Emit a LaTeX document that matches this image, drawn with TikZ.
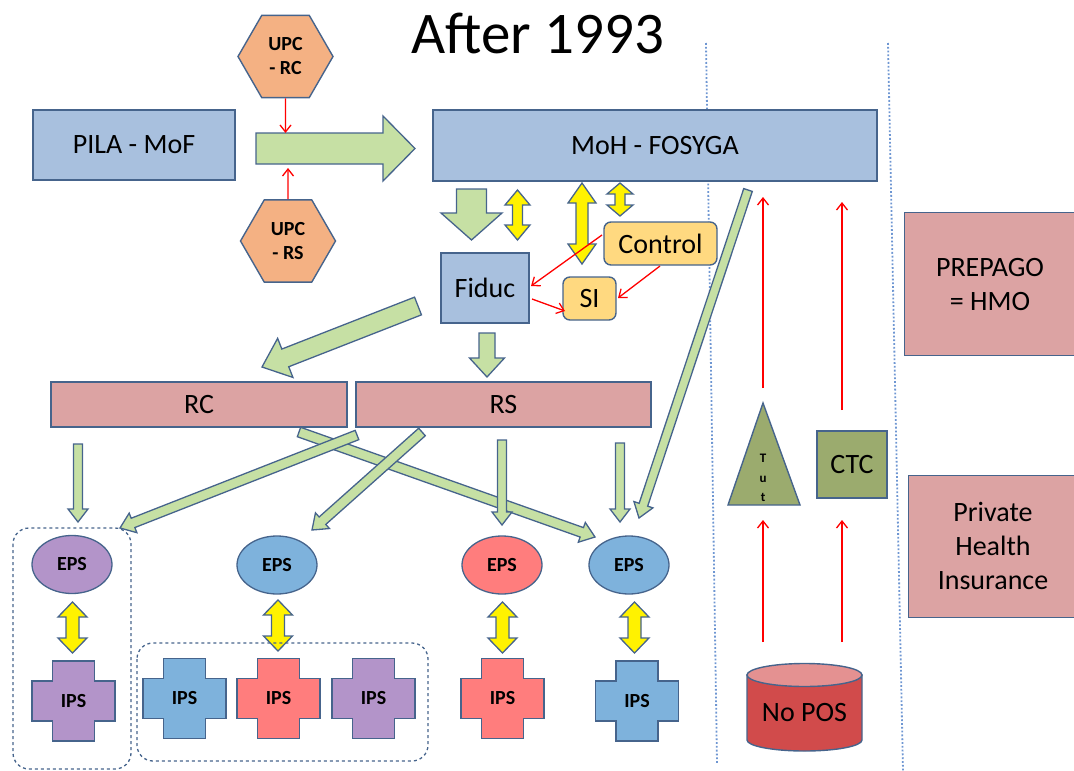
\documentclass[tikz,border=0pt]{standalone}
\usepackage{fontspec}
\setmainfont{Carlito}
\usetikzlibrary{calc,shapes.geometric,arrows.meta}

\definecolor{bord}{RGB}{70,100,140}
\definecolor{boxblue}{RGB}{168,192,222}
\definecolor{boxpink}{RGB}{220,163,163}
\definecolor{lgreen}{RGB}{198,224,164}
\definecolor{orangehex}{RGB}{244,177,131}
\definecolor{ctrlyel}{RGB}{255,217,128}
\definecolor{purp}{RGB}{179,148,201}
\definecolor{lblue}{RGB}{126,178,220}
\definecolor{lred}{RGB}{255,125,125}
\definecolor{olive}{RGB}{155,171,110}
\definecolor{cylbody}{RGB}{209,75,75}
\definecolor{cyltop}{RGB}{228,145,145}
\definecolor{dotblue}{RGB}{110,150,210}

\newcommand\fm{\fontsize{28}{34}\selectfont}
\newcommand\fsb{\fontsize{20}{24}\selectfont\bfseries}

% block arrow: [style] from to bodyhalf headhalf headlen
\newcommand\blockarr[6][]{%
  \coordinate (bah) at ($(#3)!#6!(#2)$);
  \draw[garrow,#1] ($(#2)!#4!90:(#3)$) -- ($(bah)!#4!90:(#3)$) -- ($(bah)!#5!90:(#3)$) -- (#3)
     -- ($(bah)!#5!-90:(#3)$) -- ($(bah)!#4!-90:(#3)$) -- ($(#2)!#4!-90:(#3)$) -- cycle;}
% double arrow: from to bodyhalf headhalf headlen
\newcommand\dblarr[5]{%
  \coordinate (dah) at ($(#1)!#5!(#2)$);
  \coordinate (dbh) at ($(#2)!#5!(#1)$);
  \draw[yarrow] (#1) -- ($(dah)!#4!90:(#2)$) -- ($(dah)!#3!90:(#2)$) -- ($(dbh)!#3!90:(#2)$)
     -- ($(dbh)!#4!90:(#2)$) -- (#2) -- ($(dbh)!#4!-90:(#2)$) -- ($(dbh)!#3!-90:(#2)$)
     -- ($(dah)!#3!-90:(#2)$) -- ($(dah)!#4!-90:(#2)$) -- cycle;}
% IPS cross: name x y colour
\newcommand\ipscross[4]{%
  \begin{scope}[shift={(#2,#3)}]
    \draw[crossst,fill=#4] (-21,-40) -- (21,-40) -- (21,-20) -- (41.5,-20) -- (41.5,20) -- (21,20)
      -- (21,40) -- (-21,40) -- (-21,20) -- (-41.5,20) -- (-41.5,-20) -- (-21,-20) -- cycle;
    \node[font=\fsb,inner sep=0pt] (#1) at (0,0) {IPS};
  \end{scope}}

\begin{document}
\begin{tikzpicture}[x=1pt,y=-1pt,
  nbox/.style={draw=bord,line width=1.4pt,fill=#1,inner sep=0pt,font=\fm,align=center},
  hexa/.style={regular polygon,regular polygon sides=6,minimum size=95pt,draw=bord,line width=1.4pt,
     fill=orangehex,inner sep=0pt,align=center,font=\fsb},
  epsn/.style={ellipse,draw=bord,line width=1.3pt,fill=#1,minimum width=80pt,minimum height=58pt,
     inner sep=0pt,font=\fsb},
  garrow/.style={draw=bord,line width=1.3pt,fill=lgreen,line join=miter},
  yarrow/.style={draw=bord,line width=1.3pt,fill=yellow,line join=miter},
  redarr/.style={draw=red,line width=1.3pt,-{Straight Barb[length=7pt,width=11pt]}},
  dotline/.style={draw=dotblue,line width=1.8pt,dotted},
  grp/.style={draw=bord,line width=1.3pt,dashed,rounded corners=16pt},
  crossst/.style={draw=bord,line width=1.4pt,line join=miter}]
\useasboundingbox (0,0) rectangle (1074,771);

% dotted separators
\coordinate (d1a) at (706,43); \coordinate (d1b) at (717,763);
\coordinate (d2a) at (888,43); \coordinate (d2b) at (903,771);
\draw[dotline] (d1a) -- (d1b);
\draw[dotline] (d2a) -- (d2b);

% title
\node[font=\fontsize{59}{64}\selectfont,anchor=base,inner sep=0pt] (title) at (537.5,53) {After 1993};

% top boxes
\node[nbox=boxblue,minimum width=202pt,minimum height=70pt] (pila) at (134,145) {PILA - MoF};
\node[nbox=boxblue,minimum width=444pt,minimum height=71pt] (moh) at (655,145.5) {MoH - FOSYGA};
\node[hexa] (upcrc) at (285.5,56.5) {UPC\\- RC};
\node[hexa] (upcrs) at (288,241) {UPC\\- RS};

% big right arrow
\coordinate (g1a) at (256,148.5); \coordinate (g1b) at (415,148.5);
\blockarr{g1a}{g1b}{15.5pt}{32.5pt}{32pt}
\coordinate (hexrcend) at (285.5,133);
\coordinate (hexrsend) at (288,168);
\draw[redarr] (upcrc.south) -- (hexrcend);
\draw[redarr] (upcrs.north) -- (hexrsend);

% Fiduc, Control, SI
\node[nbox=boxblue,minimum width=88pt,minimum height=70pt] (fiduc) at (485,288) {Fiduc};
\node[nbox=ctrlyel,minimum width=113pt,minimum height=43pt,rounded corners=7pt] (control) at (660.5,243.5) {Control};
\node[nbox=ctrlyel,minimum width=53pt,minimum height=43pt,rounded corners=7pt] (si) at (589.5,298.5) {SI};

\coordinate (g2a) at (471.5,189); \coordinate (g2b) at (471.5,240);
\blockarr{g2a}{g2b}{15pt}{30.5pt}{27pt}

\coordinate (y1a) at (517.5,190); \coordinate (y1b) at (517.5,240);
\dblarr{y1a}{y1b}{5pt}{12.5pt}{15pt}
\coordinate (y2a) at (582,183); \coordinate (y2b) at (582,264);
\dblarr{y2a}{y2b}{6pt}{14pt}{20pt}
\coordinate (y3a) at (620,183); \coordinate (y3b) at (620,216);
\dblarr{y3a}{y3b}{5pt}{13pt}{11pt}

\coordinate (c1) at (602,235); \coordinate (c2) at (531,286);
\coordinate (f1) at (532,299); \coordinate (f2) at (565,311);
\coordinate (c3) at (660,266); \coordinate (c4) at (618,298);
\draw[redarr] (c1) -- (c2);
\draw[redarr] (f1) -- (f2);
\draw[redarr] (c3) -- (c4);

% RC / RS
\node[nbox=boxpink,minimum width=296pt,minimum height=45pt] (rc) at (199,404.5) {RC};
\node[nbox=boxpink,minimum width=295pt,minimum height=45pt] (rs) at (503.5,404.5) {RS};

\coordinate (g3a) at (487,333); \coordinate (g3b) at (487,377);
\blockarr{g3a}{g3b}{8pt}{17.5pt}{19pt}
\coordinate (g4a) at (418,306); \coordinate (g4b) at (262,367);
\blockarr{g4a}{g4b}{9.5pt}{21pt}{25pt}

% right side boxes
\node[nbox=boxpink,minimum width=176pt,minimum height=143pt,anchor=north west] (prepago) at (904,212) {};
\node[font=\fm,align=center,inner sep=0pt] (prepagotxt) at (990,285) {PREPAGO\\= HMO};
\node[nbox=boxpink,minimum width=172pt,minimum height=142pt,anchor=north west] (private) at (908,475) {};
\node[font=\fm,align=center,inner sep=0pt] (privatetxt) at (993,546) {Private\\Health\\Insurance};

% EPS
\node[epsn=purp] (eps1) at (72,564.5) {EPS};
\node[epsn=lblue] (eps2) at (277,565) {EPS};
\node[epsn=lred] (eps3) at (502,565) {EPS};
\node[epsn=lblue] (eps4) at (629,565) {EPS};

% thin green arrows
\coordinate (t1a) at (78,444);  \coordinate (t1b) at (78,522);
\coordinate (t2a) at (357,435); \coordinate (t2b) at (120,528);
\coordinate (t3a) at (422,432); \coordinate (t3b) at (312,530);
\coordinate (t4a) at (299,432); \coordinate (t4b) at (595,537);
\coordinate (t5a) at (502,440); \coordinate (t5b) at (502,525);
\coordinate (t6a) at (620,443); \coordinate (t6b) at (620,522);
\coordinate (t7a) at (748,190); \coordinate (t7b) at (639,518);
\blockarr{t1a}{t1b}{4.5pt}{10pt}{13pt}
\blockarr{t4a}{t4b}{5pt}{10.5pt}{14pt}
\blockarr{t2a}{t2b}{5pt}{10.5pt}{14pt}
\blockarr{t3a}{t3b}{5pt}{10.5pt}{14pt}
\blockarr{t5a}{t5b}{4.5pt}{10pt}{13pt}
\blockarr{t6a}{t6b}{4.5pt}{10pt}{13pt}
\blockarr{t7a}{t7b}{4.5pt}{10pt}{14pt}

% EPS - IPS yellow arrows
\coordinate (e1a) at (72.5,602); \coordinate (e1b) at (72.5,653);
\coordinate (e2a) at (278,600);  \coordinate (e2b) at (278,651);
\coordinate (e3a) at (502.5,602); \coordinate (e3b) at (502.5,653);
\coordinate (e4a) at (634.5,602); \coordinate (e4b) at (634.5,653);
\dblarr{e1a}{e1b}{6.5pt}{14.5pt}{15pt}
\dblarr{e2a}{e2b}{6.5pt}{14.5pt}{15pt}
\dblarr{e3a}{e3b}{6.5pt}{14.5pt}{15pt}
\dblarr{e4a}{e4b}{6.5pt}{14.5pt}{15pt}

% IPS crosses
\ipscross{ips1}{73.5}{701}{purp}
\ipscross{ips2}{184.5}{698.5}{lblue}
\ipscross{ips3}{278.5}{698.5}{lred}
\ipscross{ips4}{373.5}{698.5}{purp}
\ipscross{ips5}{502.5}{698.5}{lred}
\ipscross{ips6}{637}{701}{lblue}

% dashed groups
\draw[grp] (13,528) rectangle (131,769);
\draw[grp] (137,643) rectangle (428,761);

% Tut triangle and CTC
\coordinate (triapex) at (763,403);
\draw[draw=bord,line width=1.4pt,fill=olive,line join=miter] (triapex) -- (800,505) -- (728,505) -- cycle;
\node[font=\fontsize{13}{19.5}\selectfont\bfseries,align=center,inner sep=0pt] (tut) at (763,478) {T\\u\\t};
\node[nbox=olive,minimum width=70pt,minimum height=67pt] (ctc) at (852,464.5) {CTC};

% No POS cylinder
\draw[draw=bord,line width=1.4pt,fill=cylbody] (747,675) -- (747,740)
   arc[start angle=180,end angle=360,x radius=57.5pt,y radius=11pt] -- (862,675) -- cycle;
\draw[draw=bord,line width=1.4pt,fill=cyltop] (804.5,675) ellipse [x radius=57.5pt,y radius=11.5pt];
\node[font=\fm,inner sep=0pt] (nopos) at (804.5,713) {No POS};

% red vertical arrows
\coordinate (r1a) at (763,642); \coordinate (r1b) at (763,520);
\coordinate (r2a) at (763,388); \coordinate (r2b) at (763,197);
\coordinate (r3a) at (842,642); \coordinate (r3b) at (842,520);
\coordinate (r4a) at (842,410); \coordinate (r4b) at (842,202);
\draw[redarr] (r1a) -- (r1b);
\draw[redarr] (r2a) -- (r2b);
\draw[redarr] (r3a) -- (r3b);
\draw[redarr] (r4a) -- (r4b);
\end{tikzpicture}
\end{document}
